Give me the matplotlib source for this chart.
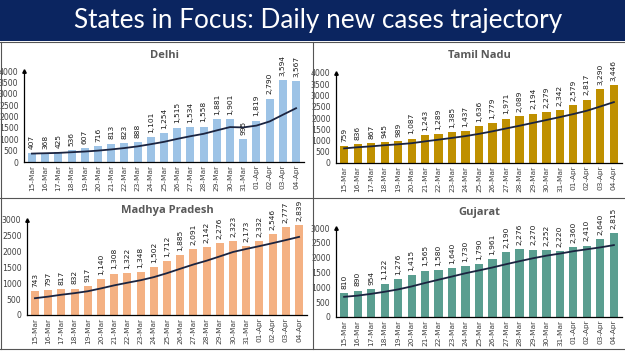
import numpy as np
import matplotlib.pyplot as plt
from matplotlib.lines import Line2D
from matplotlib.patches import Rectangle

dates = ['15-Mar', '16-Mar', '17-Mar', '18-Mar', '19-Mar', '20-Mar', '21-Mar',
         '22-Mar', '23-Mar', '24-Mar', '25-Mar', '26-Mar', '27-Mar', '28-Mar',
         '29-Mar', '30-Mar', '31-Mar', '01-Apr', '02-Apr', '03-Apr', '04-Apr']

delhi = [407, 368, 425, 536, 607, 716, 813, 823, 888, 1101, 1254, 1515, 1534,
         1558, 1881, 1901, 995, 1819, 2790, 3594, 3567]
tamil_nadu = [759, 836, 867, 945, 989, 1087, 1243, 1289, 1385, 1437, 1636, 1779,
              1971, 2089, 2194, 2279, 2342, 2579, 2817, 3290, 3446]
madhya_pradesh = [743, 797, 817, 832, 917, 1140, 1308, 1322, 1348, 1502, 1712,
                  1885, 2091, 2142, 2276, 2323, 2173, 2332, 2546, 2777, 2839]
gujarat = [810, 890, 954, 1122, 1276, 1415, 1565, 1580, 1640, 1730, 1790, 1961,
           2190, 2276, 2270, 2252, 2220, 2360, 2410, 2640, 2815]

# 7-day averages as drawn (first points)
delhi_avg = [370, 385, 400, 430, 460, 500, 553, 613, 687, 783, 886, 1016, 1133,
             1239, 1390, 1535, 1520, 1600, 1783, 2077, 2364]
tamil_nadu_avg = [650, 700, 740, 790, 830, 880, 961, 1037, 1115, 1196, 1295, 1408,
                  1534, 1655, 1784, 1912, 2041, 2176, 2324, 2513, 2707]
madhya_pradesh_avg = [530, 580, 640, 690, 750, 840, 936, 1019, 1098, 1196, 1321,
                      1460, 1595, 1715, 1851, 1990, 2086, 2175, 2269, 2367, 2467]
gujarat_avg = [680, 720, 780, 850, 930, 1030, 1147, 1257, 1365, 1475, 1571, 1669,
               1779, 1881, 1980, 2067, 2137, 2218, 2283, 2347, 2424]

W, H = 625, 351
fig = plt.figure(figsize=(W / 100, H / 100), dpi=100)
fig.patch.set_facecolor('white')

# title bar
fig.add_artist(Rectangle((0, (H - 41) / H), 1, 41 / H, transform=fig.transFigure,
                         facecolor='#0B2560', edgecolor='none'))
fig.text(318 / W, (H - 28) / H, 'States in Focus: Daily new cases trajectory',
         color='white', fontsize=18.8, family='Lato', ha='center', va='baseline')

# panel dividers
def hline(y, x0=0, x1=W):
    fig.add_artist(Line2D([x0 / W, x1 / W], [(H - y) / H, (H - y) / H],
                          transform=fig.transFigure, color='#555555', lw=0.8))

def vline(x, y0, y1):
    fig.add_artist(Line2D([x / W, x / W], [(H - y0) / H, (H - y1) / H],
                          transform=fig.transFigure, color='#555555', lw=0.8))

hline(42)
hline(198)
hline(349)
vline(313, 42, 349)
vline(1, 42, 349)

def panel(rect, name, vals, avg, color, ymax, title_y):
    left, right, y0, ytop = rect
    ax = fig.add_axes([left / W, (H - y0) / H, (right - left) / W, (y0 - ytop) / H])
    x = np.arange(len(dates))
    ax.bar(x, vals, width=0.6, color=color, zorder=2)
    ax.plot(x, avg, color='#1B2440', lw=1.3, zorder=3)
    for xi, v in zip(x, vals):
        ax.annotate(f'{v:,}', (xi, v), xytext=(0, 3), textcoords='offset points',
                    rotation=90, ha='center', va='bottom', fontsize=5.4,
                    color='#1a1a1a', annotation_clip=False)
    ax.set_xlim(-0.6, len(dates) - 0.4)
    ax.set_ylim(0, ymax)
    ax.set_yticks(np.arange(0, ymax + 1, 500))
    ax.set_xticks(x)
    ax.set_xticklabels(dates, rotation=90, fontsize=5.3, color='#404040')
    ax.tick_params(axis='y', labelsize=5.6, labelcolor='#404040', length=0, pad=4)
    ax.tick_params(axis='x', length=0, pad=2)
    for s in ['top', 'right']:
        ax.spines[s].set_visible(False)
    ax.spines['left'].set_color('black')
    ax.spines['bottom'].set_color('black')
    ax.spines['left'].set_linewidth(0.9)
    ax.spines['bottom'].set_linewidth(0.9)
    ax.plot(0, 1, marker='^', color='black', ms=2.5, transform=ax.transAxes,
            clip_on=False)
    ax.set_facecolor('none')
    cx = (left + right) / 2 / W
    fig.text(cx, (H - title_y) / H, name, ha='center', va='center', fontsize=8,
             fontweight='bold', color='#595959', family='Open Sans')
    return ax

panel((24, 304, 162, 71), 'Delhi', delhi, delhi_avg, '#9DC3E6', 4000, 55)
panel((336, 622, 163, 73), 'Tamil Nadu', tamil_nadu, tamil_nadu_avg, '#BF9000', 4000, 55)
panel((27, 307, 315, 220), 'Madhya Pradesh', madhya_pradesh, madhya_pradesh_avg,
      '#F4B183', 3000, 211)
panel((336, 622, 317, 228), 'Gujarat', gujarat, gujarat_avg, '#5A9E90', 3000, 212)

fig.savefig('out.png', dpi=100)
